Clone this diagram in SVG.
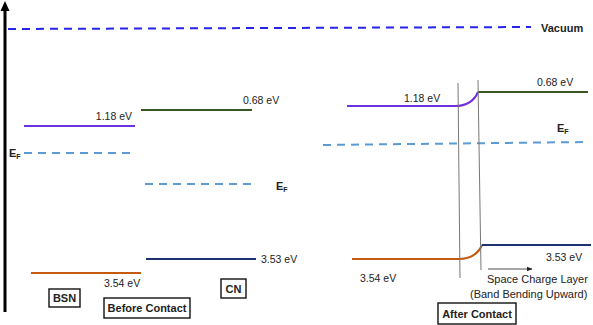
<svg xmlns="http://www.w3.org/2000/svg" width="593" height="325" viewBox="0 0 593 325">
<style>
text{font-family:"Liberation Sans",Arial,sans-serif;font-size:10.5px;fill:#222}
.b{font-weight:bold;font-size:11px}
.s{font-size:11px}
.cb{stroke:#7030E0;stroke-width:2;fill:none}
.gr{stroke:#375623;stroke-width:2;fill:none}
.vb{stroke:#C55A11;stroke-width:2;fill:none}
.nv{stroke:#1F3070;stroke-width:2;fill:none}
.ef{stroke:#5B9BD5;stroke-width:2;stroke-dasharray:8,6;fill:none}
.vac{stroke:#2525E8;stroke-width:2;stroke-dasharray:8,6;fill:none}
.box{fill:#fff;stroke:#111;stroke-width:1.4}
.sep{stroke:#777;stroke-width:1;fill:none}
</style>
<defs>
<marker id="ah" viewBox="0 0 10 10" refX="9" refY="5" markerWidth="6" markerHeight="6" orient="auto" markerUnits="userSpaceOnUse"><path d="M0,1 L10,5 L0,9 z" fill="#222"/></marker>
</defs>
<g id="axis">
<line x1="5" y1="312" x2="5" y2="9" stroke="#000" stroke-width="3"/>
<path d="M0.5,11 L5,1 L9.5,11 z" fill="#000"/>
</g>
<g id="vacuum">
<line class="vac" x1="8" y1="29" x2="531" y2="27"/>
<text class="b" x="541" y="32">Vacuum</text>
</g>
<g id="bsn-before">
<line class="cb" x1="24" y1="126" x2="135" y2="126"/>
<text x="132" y="120" text-anchor="end">1.18 eV</text>
<line class="ef" x1="24" y1="153" x2="134" y2="153"/>
<text class="b" x="9" y="157">E<tspan font-size="7" dy="2">F</tspan></text>
<line class="vb" x1="31" y1="273" x2="141" y2="273"/>
<text x="104" y="287">3.54 eV</text>
<rect class="box" x="49" y="289" width="31" height="18"/>
<text class="b" x="64.5" y="302" text-anchor="middle">BSN</text>
</g>
<g id="cn-before">
<line class="gr" x1="141" y1="110" x2="252" y2="110"/>
<text x="243" y="104">0.68 eV</text>
<line class="ef" x1="145" y1="184" x2="256" y2="184"/>
<text class="b" x="276" y="190">E<tspan font-size="7" dy="2">F</tspan></text>
<line class="nv" x1="146" y1="259" x2="256" y2="259"/>
<text x="261" y="263">3.53 eV</text>
<rect class="box" x="221" y="279" width="25" height="19"/>
<text class="b" x="233.5" y="293" text-anchor="middle">CN</text>
</g>
<g id="before-contact">
<rect class="box" x="104" y="298" width="86" height="20"/>
<text class="b" x="147" y="312" text-anchor="middle">Before Contact</text>
</g>
<g id="after-contact-bands">
<path class="cb" d="M347,106 L455,106 Q472,106 478,92"/>
<line class="gr" x1="478" y1="92" x2="588" y2="92"/>
<text x="404" y="102">1.18 eV</text>
<text x="537" y="86">0.68 eV</text>
<line class="ef" x1="323" y1="145" x2="588" y2="142"/>
<text class="b" x="557" y="132">E<tspan font-size="7" dy="2">F</tspan></text>
<path class="vb" d="M352,259 L458,259 Q476,259 482,245"/>
<line class="nv" x1="482" y1="245" x2="591" y2="245"/>
<text x="546" y="261">3.53 eV</text>
<text x="360" y="282">3.54 eV</text>
</g>
<g id="space-charge">
<line class="sep" x1="458" y1="83" x2="460" y2="278"/>
<line class="sep" x1="478" y1="80" x2="481" y2="270"/>
<line x1="488" y1="269" x2="532" y2="269" stroke="#222" stroke-width="0.8" marker-end="url(#ah)"/>
<text class="s" x="487" y="283">Space Charge Layer</text>
<text class="s" x="470" y="298">(Band Bending Upward)</text>
</g>
<g id="after-contact">
<rect class="box" x="438" y="303" width="78" height="21"/>
<text class="b" x="477" y="318" text-anchor="middle">After Contact</text>
</g>
</svg>
